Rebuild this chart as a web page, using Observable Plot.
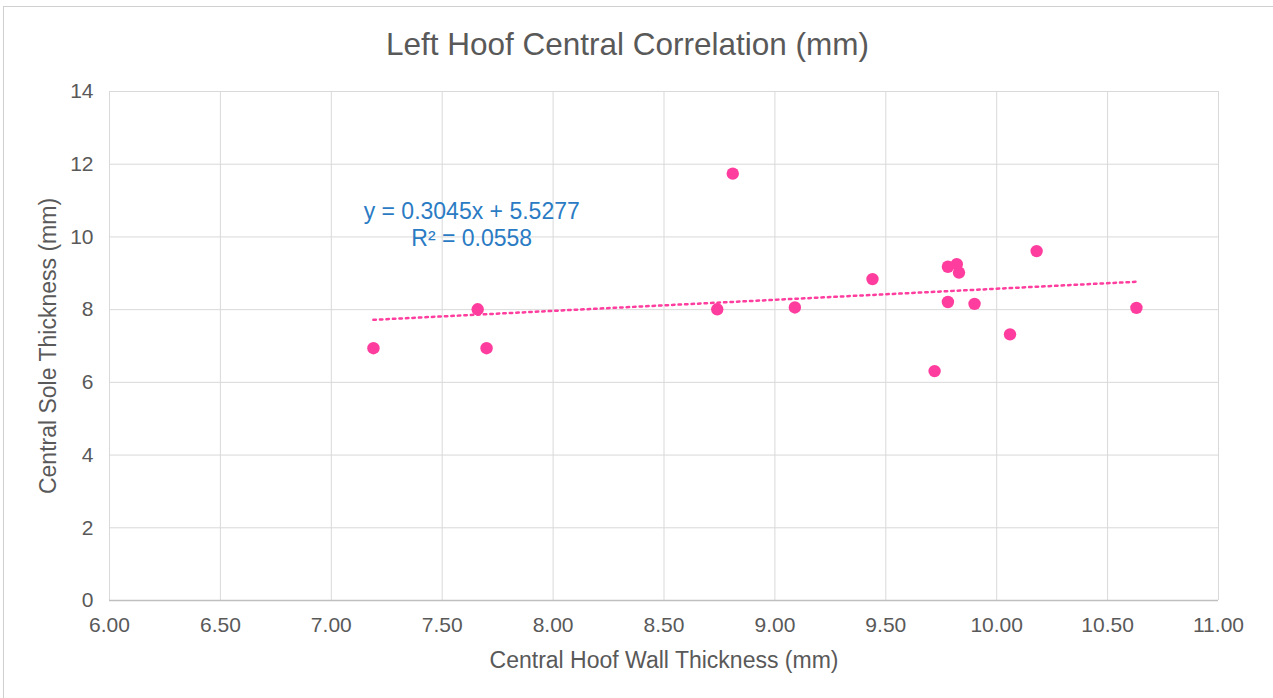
<!DOCTYPE html>
<html>
<head>
<meta charset="utf-8">
<script src="https://cdn.jsdelivr.net/npm/d3@7"></script>
<script src="https://cdn.jsdelivr.net/npm/@observablehq/plot@0.6"></script>
<style>
  html, body { margin: 0; padding: 0; background: #fff; overflow: hidden; }
  body { width: 1273px; height: 698px; position: relative; font-family: "Liberation Sans", Arial, sans-serif; }
  #frame { position: absolute; left: 3px; top: 6px; width: 1290px; height: 700px; border: 1px solid #d0d0d0; box-sizing: border-box; }
  #title { position: absolute; top: 26px; left: 0; width: 1255px; text-align: center; font-size: 31.5px; color: #595959; white-space: nowrap; }
  #chart { position: absolute; left: 0; top: 0; }
</style>
</head>
<body>
<div id="frame"></div>
<div id="title">Left Hoof Central Correlation (mm)</div>
<div id="chart"></div>
<script>
const wallThickness = [7.19, 7.66, 7.70, 8.74, 8.81, 9.09, 9.44, 9.72, 9.78, 9.78, 9.82, 9.83, 9.90, 10.06, 10.18, 10.63];
const soleThickness = [6.94, 8.01, 6.94, 8.01, 11.74, 8.06, 8.84, 6.31, 9.18, 8.21, 9.25, 9.02, 8.16, 7.32, 9.61, 8.05];
const xTicks = [6.0, 6.5, 7.0, 7.5, 8.0, 8.5, 9.0, 9.5, 10.0, 10.5, 11.0];
const yTicks = [0, 2, 4, 6, 8, 10, 12, 14];
const equationLabel = [{x: 7.633, y: 10.36, text: "y = 0.3045x + 5.5277\nR² = 0.0558"}];

const data = wallThickness.map((w, i) => ({wall: w, sole: soleThickness[i]}));
const pink = "#ff3d9e";
const grey = "#595959";

const chart = Plot.plot({
  width: 1273,
  height: 698,
  marginLeft: 109,
  marginRight: 55,
  marginTop: 91,
  marginBottom: 98,
  style: {fontFamily: "'Liberation Sans', Arial, sans-serif", fontSize: "21px", color: grey, background: "transparent", overflow: "visible"},
  x: {domain: [6, 11], ticks: xTicks},
  y: {domain: [0, 14], ticks: yTicks},
  marks: [
    Plot.gridX(xTicks, {stroke: "#d9d9d9", strokeOpacity: 1, strokeWidth: 1}),
    Plot.gridY(yTicks, {stroke: "#d9d9d9", strokeOpacity: 1, strokeWidth: 1}),
    Plot.ruleY([0], {stroke: "#bfbfbf", strokeWidth: 1.5}),
    Plot.axisX(xTicks, {tickSize: 0, tickPadding: 17, tickFormat: d3.format(".2f"), fontSize: 21, fill: grey,
      label: "Central Hoof Wall Thickness (mm)", labelAnchor: "center", labelArrow: "none", labelOffset: 67}),
    Plot.axisY(yTicks, {tickSize: 0, tickPadding: 16, fontSize: 21, fill: grey,
      label: "Central Sole Thickness (mm)", labelAnchor: "center", labelArrow: "none", labelOffset: 70}),
    Plot.linearRegressionY(data, {x: "wall", y: "sole", ci: 0, stroke: pink, strokeWidth: 2.5, strokeDasharray: "2.5,4"}),
    Plot.dot(data, {x: "wall", y: "sole", r: 6.2, fill: pink, stroke: "none"}),
    Plot.text(equationLabel, {x: "x", y: "y", text: "text", fill: "#2a7bc4", fontSize: 23, lineHeight: 1.16, textAnchor: "middle"})
  ]
});
chart.querySelectorAll("[aria-label='x-axis label'] text, [aria-label='y-axis label'] text").forEach(t => { t.setAttribute("font-size", "23px"); t.setAttribute("fill", grey); });
document.getElementById("chart").appendChild(chart);
</script>
</body>
</html>
